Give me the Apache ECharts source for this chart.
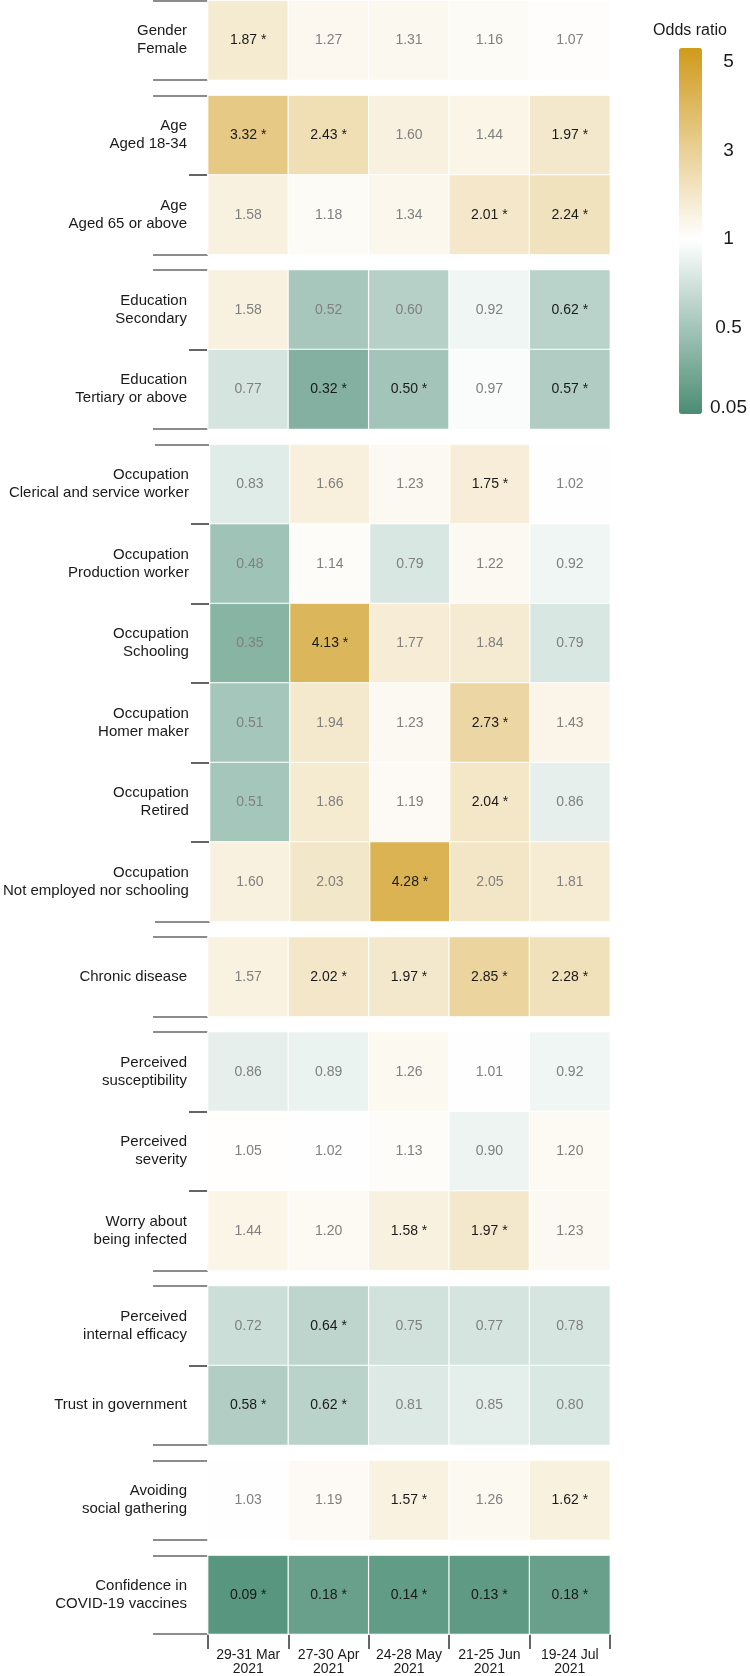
<!DOCTYPE html>
<html><head><meta charset="utf-8">
<script src="https://cdn.jsdelivr.net/npm/echarts@6/dist/echarts.min.js"></script>
<style>html,body{margin:0;padding:0;background:#fff}#c{width:750px;height:1676px}</style>
</head><body><div id="c"></div>
<script>
// ---------------- data ----------------
const periods = ['29-31 Mar\n2021', '27-30 Apr\n2021', '24-28 May\n2021', '21-25 Jun\n2021', '19-24 Jul\n2021'];
const rowLabels = [
  'Gender\nFemale',
  'Age\nAged 18-34', 'Age\nAged 65 or above',
  'Education\nSecondary', 'Education\nTertiary or above',
  'Occupation\nClerical and service worker', 'Occupation\nProduction worker', 'Occupation\nSchooling',
  'Occupation\nHomer maker', 'Occupation\nRetired', 'Occupation\nNot employed nor schooling',
  'Chronic disease',
  'Perceived\nsusceptibility', 'Perceived\nseverity', 'Worry about\nbeing infected',
  'Perceived\ninternal efficacy', 'Trust in government',
  'Avoiding\nsocial gathering',
  'Confidence in\nCOVID-19 vaccines'
];
const facetSizes = [1, 2, 2, 6, 1, 3, 2, 1, 1];
const orMar = [1.87, 3.32, 1.58, 1.58, 0.77, 0.83, 0.48, 0.35, 0.51, 0.51, 1.60, 1.57, 0.86, 1.05, 1.44, 0.72, 0.58, 1.03, 0.09];
const orApr = [1.27, 2.43, 1.18, 0.52, 0.32, 1.66, 1.14, 4.13, 1.94, 1.86, 2.03, 2.02, 0.89, 1.02, 1.20, 0.64, 0.62, 1.19, 0.18];
const orMay = [1.31, 1.60, 1.34, 0.60, 0.50, 1.23, 0.79, 1.77, 1.23, 1.19, 4.28, 1.97, 1.26, 1.13, 1.58, 0.75, 0.81, 1.57, 0.14];
const orJun = [1.16, 1.44, 2.01, 0.92, 0.97, 1.75, 1.22, 1.84, 2.73, 2.04, 2.05, 2.85, 1.01, 0.90, 1.97, 0.77, 0.85, 1.26, 0.13];
const orJul = [1.07, 1.97, 2.24, 0.62, 0.57, 1.02, 0.92, 0.79, 1.43, 0.86, 1.81, 2.28, 0.92, 1.20, 1.23, 0.78, 0.80, 1.62, 0.18];
const sigMar = [1, 1, 0, 0, 0, 0, 0, 0, 0, 0, 0, 0, 0, 0, 0, 0, 1, 0, 1];
const sigApr = [0, 1, 0, 0, 1, 0, 0, 1, 0, 0, 0, 1, 0, 0, 0, 1, 1, 0, 1];
const sigMay = [0, 0, 0, 0, 1, 0, 0, 0, 0, 0, 1, 1, 0, 0, 1, 0, 0, 1, 1];
const sigJun = [0, 0, 1, 0, 0, 1, 0, 0, 1, 1, 0, 1, 0, 0, 1, 0, 0, 0, 1];
const sigJul = [0, 1, 1, 1, 1, 0, 0, 0, 0, 0, 0, 1, 0, 0, 0, 0, 0, 1, 1];
const legendBreaks = [5, 3, 1, 0.5, 0.05];
const legendTitle = 'Odds ratio';

// ---------------- layout / style ----------------
const orCols = [orMar, orApr, orMay, orJun, orJul];
const sigCols = [sigMar, sigApr, sigMay, sigJun, sigJul];
const FONT = "'Liberation Sans', Arial, Helvetica, sans-serif";
const P = 79.5, GAP = 15.5, TOP0 = 0.5;
const toT = v => v >= 1 ? v - 1 : 4 * (v - 1);
const VMIN = -3.95, VMAX = 4.32;
const STOPS = [[-4, [72, 139, 115]], [0, [255, 255, 255]], [4, [211, 162, 44]]];
function colorAt(t) {
  let a, b;
  if (t <= 0) { a = STOPS[0]; b = STOPS[1]; } else { a = STOPS[1]; b = STOPS[2]; }
  const f = (t - a[0]) / (b[0] - a[0]);
  const c = a[1].map((v, i) => Math.max(0, Math.min(255, Math.round(v + (b[1][i] - v) * f))));
  return 'rgb(' + c.join(',') + ')';
}
const rampColors = [];
for (let i = 0; i < 80; i++) rampColors.push(colorAt(VMIN + (VMAX - VMIN) * i / 79));

const grids = [], xAxes = [], yAxes = [], series = [];
let start = 0;
facetSizes.forEach((n, k) => {
  const labels = rowLabels.slice(start, start + n);
  const top = TOP0 + start * P + k * GAP;
  const last = k === facetSizes.length - 1;
  grids.push({ left: 208, width: 402, top: top, height: n * P });
  xAxes.push({
    gridIndex: k, type: 'category', data: periods, boundaryGap: true,
    axisLine: { show: false },
    axisTick: { show: last, length: 15, lineStyle: { color: '#333', width: 1.5 } },
    axisLabel: { show: last, interval: 0, margin: 14, fontSize: 14, lineHeight: 14, color: '#1a1a1a', fontFamily: FONT },
    splitLine: { show: false }
  });
  yAxes.push({
    gridIndex: k, type: 'category', data: labels, inverse: true, position: 'left',
    axisLine: { show: false },
    axisTick: { show: n > 1, length: 19, lineStyle: { color: '#333', width: 1.5 } },
    axisLabel: { interval: 0, margin: 21, fontSize: 15, lineHeight: 18, color: '#1a1a1a', fontFamily: FONT },
    splitLine: { show: false }
  });
  yAxes.push({
    gridIndex: k, type: 'category', data: labels, inverse: true, position: 'left',
    axisLine: { show: false },
    axisTick: { show: true, length: 55, interval: (i) => i === 0, lineStyle: { color: '#8c8c8c', width: 2 } },
    axisLabel: { show: false },
    splitLine: { show: false }
  });
  const data = [];
  for (let r = 0; r < n; r++) {
    for (let c = 0; c < periods.length; c++) {
      const v = orCols[c][start + r];
      const s = sigCols[c][start + r];
      data.push({ value: [c, r, toT(v), v, s], label: { color: s ? '#1a1a1a' : '#808080' } });
    }
  }
  series.push({
    type: 'heatmap', xAxisIndex: k, yAxisIndex: 2 * k, data: data,
    label: {
      show: true, fontSize: 14, fontFamily: FONT,
      formatter: p => p.value[3].toFixed(2) + (p.value[4] ? ' *' : '')
    },
    itemStyle: { borderColor: '#ffffff', borderWidth: 1.2 },
    emphasis: { disabled: true }
  });
  start += n;
});

// legend label axis
const LG = grids.length;
grids.push({ left: 679, top: 48, width: 23, height: 366 });
xAxes.push({ gridIndex: LG, type: 'value', show: false });
yAxes.push({
  gridIndex: LG, type: 'value', min: VMIN, max: VMAX, position: 'right',
  axisLine: { show: false }, axisTick: { show: false }, splitLine: { show: false },
  axisLabel: {
    customValues: legendBreaks.map(toT),
    formatter: v => { const b = legendBreaks.find(x => Math.abs(toT(x) - v) < 1e-6); return b === undefined ? '' : String(b); },
    align: 'center', margin: 28, fontSize: 19, color: '#1a1a1a', fontFamily: FONT
  }
});

const chart = echarts.init(document.getElementById('c'), null, { renderer: 'canvas' });
chart.setOption({
  backgroundColor: '#ffffff',
  animation: false,
  title: {
    text: legendTitle, left: 690, top: 23, textAlign: 'center', padding: 0,
    textStyle: { fontSize: 16, fontWeight: 'normal', color: '#1a1a1a', fontFamily: FONT }
  },
  grid: grids,
  xAxis: xAxes,
  yAxis: yAxes,
  visualMap: {
    type: 'continuous', min: VMIN, max: VMAX, dimension: 2,
    seriesIndex: series.map((_, i) => i),
    left: 679, top: 48, itemWidth: 23, itemHeight: 366, padding: 0,
    calculable: false, hoverLink: false,
    inRange: { color: rampColors }
  },
  series: series
});
</script>
</body></html>
